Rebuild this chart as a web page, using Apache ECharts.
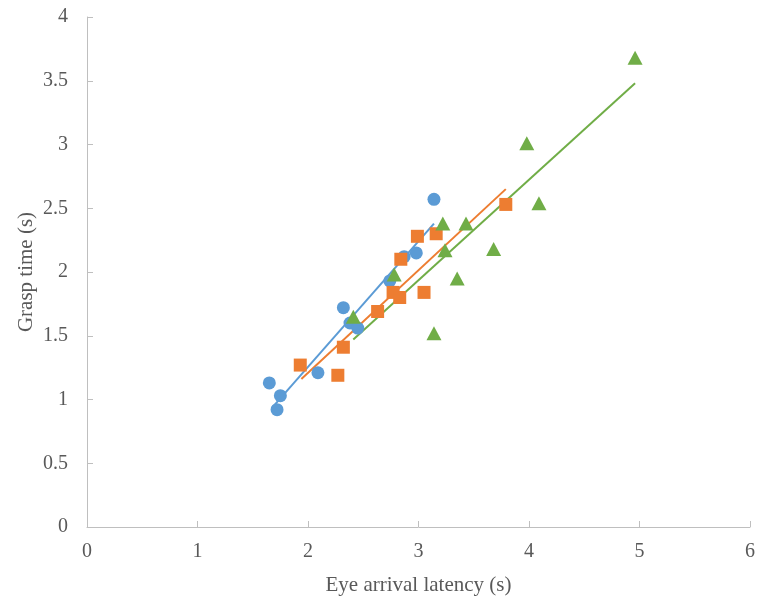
<!DOCTYPE html>
<html><head><meta charset="utf-8">
<script src="https://cdn.jsdelivr.net/npm/echarts@6/dist/echarts.min.js"></script>
<style>html,body{margin:0;padding:0;background:#fff}#c{width:758px;height:601px}</style>
</head><body><div id="c"></div>
<script>
const blueX = [1.65, 1.72, 1.75, 2.09, 2.32, 2.38, 2.45, 2.74, 2.87, 2.98, 3.14];
const blueY = [1.13, 0.92, 1.03, 1.21, 1.72, 1.60, 1.56, 1.93, 2.12, 2.15, 2.57];
const orangeX = [1.93, 2.27, 2.32, 2.63, 2.77, 2.83, 2.84, 2.99, 3.05, 3.16, 3.79];
const orangeY = [1.27, 1.19, 1.41, 1.69, 1.84, 1.80, 2.10, 2.28, 1.84, 2.30, 2.53];
const greenX = [2.41, 2.78, 3.14, 3.22, 3.24, 3.35, 3.43, 3.68, 3.98, 4.09, 4.96];
const greenY = [1.65, 1.98, 1.52, 2.38, 2.17, 1.95, 2.38, 2.18, 3.01, 2.54, 3.68];
const blueTrendX = [1.67, 3.14];
const blueTrendY = [0.93, 2.38];
const orangeTrendX = [1.94, 3.79];
const orangeTrendY = [1.16, 2.65];
const greenTrendX = [2.41, 4.96];
const greenTrendY = [1.47, 3.48];
const xTicks = [0, 1, 2, 3, 4, 5, 6];
const yTicks = [0, 0.5, 1, 1.5, 2, 2.5, 3, 3.5, 4];

const zip = (a, b) => a.map((v, i) => [v, b[i]]);
const BLUE = '#5B9BD5', ORANGE = '#ED7D31', GREEN = '#70AD47';
const font = 'Liberation Serif';
const chart = echarts.init(document.getElementById('c'));
chart.setOption({
  animation: false,
  grid: {left: 87, right: 4, top: 17, bottom: 74},
  xAxis: {
    type: 'value', min: xTicks[0], max: xTicks[xTicks.length - 1], interval: 1,
    name: 'Eye arrival latency (s)', nameLocation: 'middle', nameGap: 48, nameMoveOverlap: false,
    nameTextStyle: {fontFamily: font, fontSize: 21, color: '#595959'},
    axisLine: {lineStyle: {color: '#BFBFBF', width: 1}},
    axisTick: {show: true, inside: true, length: 6, lineStyle: {color: '#BFBFBF'}},
    axisLabel: {fontFamily: font, fontSize: 20, color: '#595959', margin: 15},
    splitLine: {show: false}
  },
  yAxis: {
    type: 'value', min: yTicks[0], max: yTicks[yTicks.length - 1], interval: 0.5,
    name: 'Grasp time (s)', nameLocation: 'middle', nameGap: 50, nameMoveOverlap: false,
    nameTextStyle: {fontFamily: font, fontSize: 21, color: '#595959'},
    axisLine: {show: true, lineStyle: {color: '#BFBFBF', width: 1}},
    axisTick: {show: true, inside: true, length: 6, lineStyle: {color: '#BFBFBF'}},
    axisLabel: {fontFamily: font, fontSize: 20, color: '#595959', margin: 19},
    splitLine: {show: false}
  },
  series: [
    {type: 'line', data: zip(blueTrendX, blueTrendY), symbol: 'none', lineStyle: {color: BLUE, width: 2}, z: 1},
    {type: 'line', data: zip(orangeTrendX, orangeTrendY), symbol: 'none', lineStyle: {color: ORANGE, width: 2}, z: 1},
    {type: 'line', data: zip(greenTrendX, greenTrendY), symbol: 'none', lineStyle: {color: GREEN, width: 2}, z: 1},
    {type: 'scatter', data: zip(blueX, blueY), symbol: 'circle', symbolSize: 13, itemStyle: {color: BLUE, opacity: 1}, z: 3},
    {type: 'scatter', data: zip(orangeX, orangeY), symbol: 'rect', symbolSize: 13, itemStyle: {color: ORANGE, opacity: 1}, z: 3},
    {type: 'scatter', data: zip(greenX, greenY), symbol: 'triangle', symbolSize: [15, 14], itemStyle: {color: GREEN, opacity: 1}, z: 3}
  ]
});
</script></body></html>
